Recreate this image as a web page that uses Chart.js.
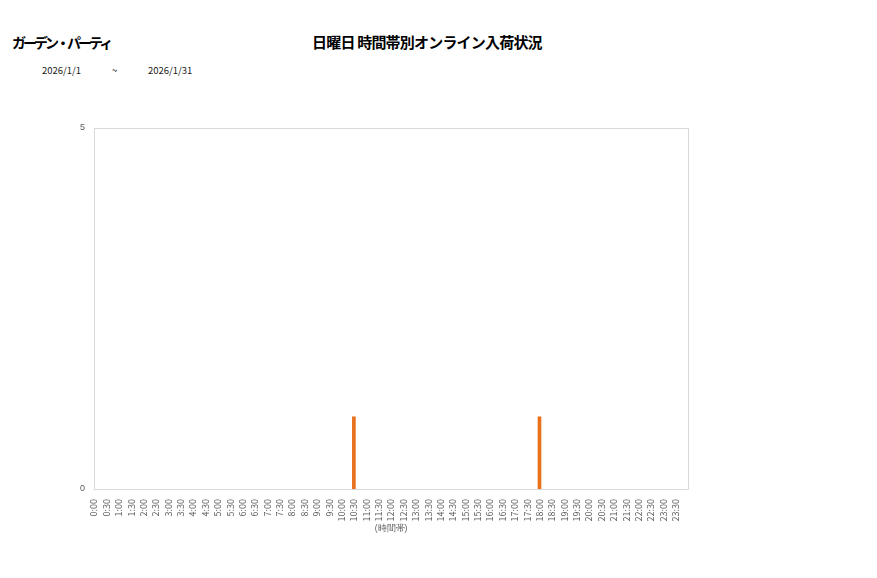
<!DOCTYPE html>
<html lang="ja">
<head>
<meta charset="UTF-8">
<title>日曜日 時間帯別オンライン入荷状況</title>
<script src="https://cdn.jsdelivr.net/npm/chart.js"></script>
<style>
  body { margin: 0; background: #fff; font-family: "Noto Sans CJK JP", "Noto Sans", sans-serif; }
  #wrap { position: relative; width: 877px; height: 578px; }
  .t { position: absolute; white-space: nowrap; color: #000; }
  #shop { left: 12px; top: 32px; font-size: 14px; font-weight: bold; letter-spacing: -3px; }
  #title { left: 312px; top: 31px; font-size: 15px; font-weight: bold; letter-spacing: -0.8px; }
  .d { top: 63px; font-size: 9.5px; color: #222; }
  canvas { position: absolute; left: 0; top: 0; }
</style>
</head>
<body>
<div id="wrap">
  <div class="t" id="shop">ガーデン・パーティ</div>
  <div class="t" id="title">日曜日 時間帯別オンライン入荷状況</div>
  <div class="t d" style="left:42px">2026/1/1</div>
  <div class="t d" style="left:112px">~</div>
  <div class="t d" style="left:148px">2026/1/31</div>
  <canvas id="c" width="877" height="578"></canvas>
</div>
<script>
// 時間帯ラベル（最後の空ラベルは24:00の位置）
var timeLabels = ['0:00','0:30','1:00','1:30','2:00','2:30','3:00','3:30','4:00','4:30',
  '5:00','5:30','6:00','6:30','7:00','7:30','8:00','8:30','9:00','9:30',
  '10:00','10:30','11:00','11:30','12:00','12:30','13:00','13:30','14:00','14:30',
  '15:00','15:30','16:00','16:30','17:00','17:30','18:00','18:30','19:00','19:30',
  '20:00','20:30','21:00','21:30','22:00','22:30','23:00','23:30',''];
var arrivals = [0,0,0,0,0,0,0,0,0,0,
  0,0,0,0,0,0,0,0,0,0,
  0,1,0,0,0,0,0,0,0,0,
  0,0,0,0,0,0,1,0,0,0,
  0,0,0,0,0,0,0,0];
var yTicks = [0, 5];

var boxPlugin = {
  id: 'box',
  afterDraw: function(chart) {
    var a = chart.chartArea, ctx = chart.ctx;
    ctx.save();
    ctx.strokeStyle = '#d9d9d9';
    ctx.lineWidth = 1;
    ctx.strokeRect(Math.round(a.left) + 0.5, Math.round(a.top) + 0.5, Math.round(a.right - a.left), Math.round(a.bottom - a.top));
    ctx.restore();
  }
};

new Chart(document.getElementById('c'), {
  type: 'bar',
  data: {
    labels: timeLabels,
    datasets: [{
      label: '入荷数',
      // 0件の時間帯は描画しない
      data: arrivals.map(function(v) { return v === 0 ? null : v; }),
      backgroundColor: '#e8701a',
      barThickness: 3
    }]
  },
  options: {
    responsive: false,
    animation: false,
    layout: { padding: { left: 0, top: 128, right: 189, bottom: 44 } },
    plugins: { legend: { display: false }, tooltip: { enabled: false } },
    scales: {
      x: {
        offset: false,
        grid: { display: false },
        border: { color: '#d9d9d9' },
        ticks: {
          autoSkip: false, maxRotation: 90, minRotation: 90,
          color: '#595959', font: { size: 9, family: '"Noto Sans CJK JP", sans-serif' }, padding: 2
        },
        title: { display: true, text: '(時間帯)', color: '#595959', font: { size: 8.5 }, padding: { top: 2, bottom: 0 } },
        afterFit: function(s) { s.height = 45; }
      },
      y: {
        min: 0, max: 5,
        afterBuildTicks: function(s) { s.ticks = yTicks.map(function(v) { return { value: v }; }); },
        grid: { display: false },
        border: { color: '#d9d9d9' },
        ticks: { color: '#595959', font: { size: 9 }, padding: 1 },
        afterFit: function(s) { s.width = 94; }
      }
    }
  },
  plugins: [boxPlugin]
});
</script>
</body>
</html>
